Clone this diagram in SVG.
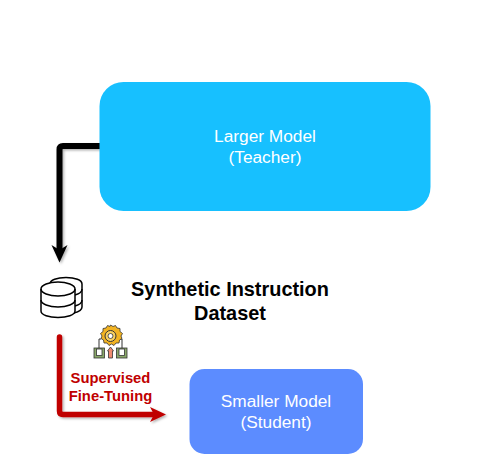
<svg xmlns="http://www.w3.org/2000/svg" width="484" height="459" viewBox="0 0 484 459">
<style>
.l{font-family:"Liberation Sans",Arial,sans-serif;font-size:17.300px;fill:#fff;text-anchor:middle}
.b{font-family:"Liberation Sans",Arial,sans-serif;font-size:19.900px;font-weight:bold;fill:#000;text-anchor:middle}
.r{font-family:"Liberation Sans",Arial,sans-serif;font-size:14.800px;font-weight:bold;fill:#c00000;text-anchor:middle}
.db{fill:#fff;stroke:#000;stroke-width:1.500}
.o{fill:none;stroke:#000;stroke-width:1.500}
.k{stroke:#333;stroke-width:.8}
</style>
<defs>
<filter id="s" x="-20%" y="-20%" width="140%" height="140%"><feDropShadow dx="1.500" dy="1.500" stdDeviation="1.200" flood-color="#000" flood-opacity=".3"/></filter>
</defs>
<rect width="484" height="459" fill="#fff"/>
<g id="connectors" fill="none">
<g filter="url(#s)">
<path d="M100 146H63Q59.500 146 59.500 149.500V250" stroke="#000" stroke-width="6" stroke-linecap="round"/>
<path d="M51.500 245L59.500 250L67.500 245L59.500 262.500Z" fill="#000"/>
</g>
<g filter="url(#s)">
<path d="M59.500 337V411Q59.500 414.500 63 414.500H153" stroke="#c00000" stroke-width="5.500" stroke-linecap="round"/>
<path d="M150 407L166 414.500L150 422L154 414.500Z" fill="#c00000"/>
</g>
</g>
<g id="teacher">
<rect x="99.500" y="82" width="331" height="129" rx="24" fill="#17c0ff"/>
<text class="l" x="265" y="142">Larger Model</text>
<text class="l" x="265" y="163">(Teacher)</text>
</g>
<g id="student">
<rect x="189.500" y="369" width="173.500" height="85" rx="15" fill="#5c8cff"/>
<text class="l" x="276" y="407">Smaller Model</text>
<text class="l" x="276" y="428">(Student)</text>
</g>
<g id="dataset">
<path class="db" d="M50 284C50 280 57 277.500 66 277.500S82 280 82 284V307C82 310 78 312 74 313L50 300Z"/>
<path class="o" d="M75 295C79 294 82 292 82 289M75 306C79 305 82 303 82 300"/>
<path class="db" d="M41 289C41 285 49 282 58 282S75 285 75 289V311C75 315 67 317.500 58 317.500S41 315 41 311Z"/>
<path class="o" d="M41 289C41 293 49 296 58 296S75 293 75 289M41 300C41 304 49 307 58 307S75 304 75 300"/>
<text class="b" x="230" y="296">Synthetic Instruction</text>
<text class="b" x="230" y="320">Dataset</text>
</g>
<g id="fine-tuning">
<path d="M99 348V339H101M122 348V339H120" fill="none" stroke="#333" stroke-width="1"/>
<path d="M110.500 325l2.500 1.500 2.500-1 1.500 2.500 3 .5v3l2.500 2-1.500 2.500 1 2.500-2.500 1.500-.5 3-3 0-2 2.500-2.500-1.500-2.500 1.500-2-2.500-3 0-.5-3-2.500-1.500 1-2.500-1.500-2.500 2.500-2v-3l3-.5 1.500-2.500 2.500 1z" fill="#f2b322" class="k"/>
<circle cx="110.500" cy="336" r="5.500" fill="#f8d060" stroke="#333" stroke-width="1"/>
<circle cx="110.500" cy="336" r="2.500" fill="#fff" class="k"/>
<rect x="94" y="348" width="10.500" height="10" fill="#8aa86a" class="k"/>
<rect x="96.500" y="349" width="5.500" height="6.500" fill="#fff" class="k"/>
<rect x="116.500" y="348" width="10.500" height="10" fill="#8aa86a" class="k"/>
<rect x="119" y="349" width="5.500" height="6.500" fill="#fff" class="k"/>
<path d="M110.500 347l3 4h-1v7h-4v-7h-1z" fill="#f08a70" class="k"/>
<text class="r" x="110.500" y="383">Supervised</text>
<text class="r" x="110.500" y="401">Fine-Tuning</text>
</g>
</svg>
